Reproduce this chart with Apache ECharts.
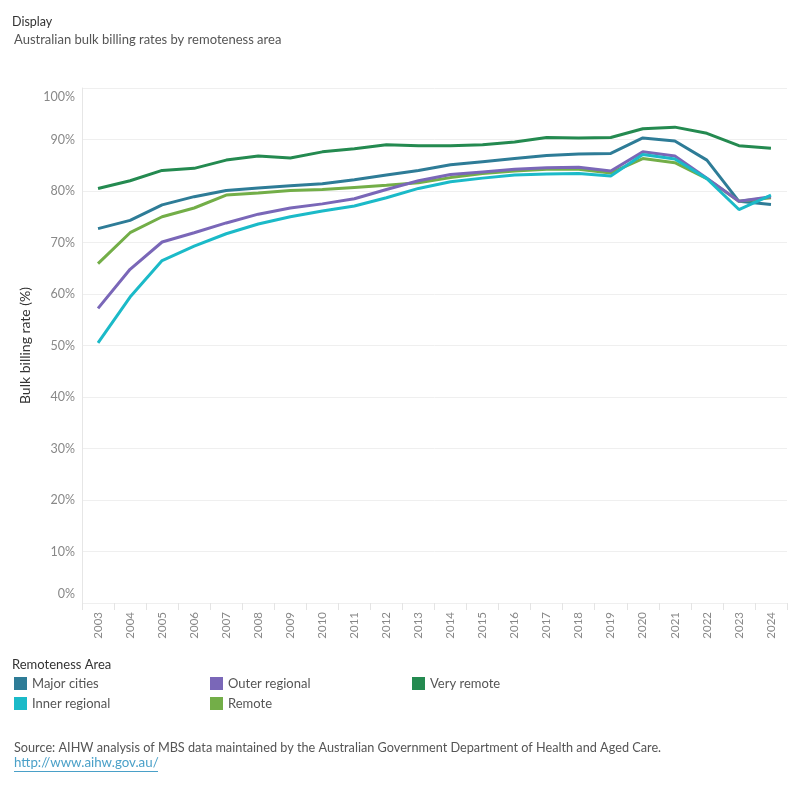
<!DOCTYPE html>
<html>
<head>
<meta charset="utf-8">
<script src="https://cdn.jsdelivr.net/npm/echarts@6/dist/echarts.min.js"></script>
<style>
  html, body { margin: 0; padding: 0; background: #fff; }
  #chart { width: 800px; height: 800px; }
</style>
</head>
<body>
<div id="chart"></div>
<script>
// years on the x axis
const years = ['2003', '2004', '2005', '2006', '2007', '2008', '2009', '2010', '2011', '2012', '2013',
  '2014', '2015', '2016', '2017', '2018', '2019', '2020', '2021', '2022', '2023', '2024'];

// bulk billing rate (%)
const majorCities = [72.7, 74.3, 77.3, 78.9, 80.1, 80.6, 81.0, 81.4, 82.2, 83.1, 84.0,
  85.1, 85.7, 86.3, 86.9, 87.2, 87.3, 90.3, 89.7, 86.0, 78.0, 77.4];
const innerRegional = [50.5, 59.4, 66.5, 69.3, 71.7, 73.6, 75.0, 76.1, 77.1, 78.7, 80.5,
  81.8, 82.5, 83.1, 83.3, 83.4, 82.9, 87.1, 86.2, 82.4, 76.4, 79.2];
const outerRegional = [57.2, 64.8, 70.1, 71.9, 73.8, 75.5, 76.7, 77.5, 78.5, 80.3, 82.0,
  83.2, 83.7, 84.2, 84.5, 84.6, 83.9, 87.6, 86.8, 82.5, 78.0, 78.9];
const remote = [65.9, 71.9, 75.0, 76.7, 79.2, 79.6, 80.1, 80.3, 80.7, 81.1, 81.6,
  82.6, 83.4, 83.9, 84.2, 84.2, 83.5, 86.3, 85.5, 82.4, 78.0, 78.7];
const veryRemote = [80.5, 82.0, 84.0, 84.4, 86.0, 86.8, 86.4, 87.6, 88.2, 89.0, 88.8,
  88.8, 89.0, 89.5, 90.4, 90.3, 90.4, 92.1, 92.4, 91.2, 88.8, 88.3];

const colors = {
  'Major cities': '#2e7c97',
  'Inner regional': '#1bbac8',
  'Outer regional': '#7a67b8',
  'Remote': '#73ae48',
  'Very remote': '#248a50',
};

const FONT = 'Lato';
const LABEL_GRAY = '#888';

const chart = echarts.init(document.getElementById('chart'), null, { renderer: 'canvas' });

function line(name, data) {
  return {
    name,
    type: 'line',
    data,
    symbol: 'none',
    lineStyle: { width: 3, color: colors[name] },
    itemStyle: { color: colors[name] },
  };
}

function legendCol(left, names) {
  return {
    orient: 'vertical',
    left,
    top: 677,
    padding: 0,
    data: names,
    icon: 'rect',
    itemWidth: 13,
    itemHeight: 13,
    itemGap: 7,
    textStyle: { color: '#555', fontSize: 13, fontFamily: FONT },
    selectedMode: false,
  };
}

function textTitle(text, left, top, size, color) {
  return {
    text,
    left,
    top,
    padding: 0,
    textStyle: { fontSize: size, fontWeight: 'normal', color, fontFamily: FONT },
  };
}

// tableau nudges the end labels inward so they stay in the plot
function yLabel(v) {
  if (v === 100) return '{t|100%}';
  if (v === 0) return '{b|0%}';
  return v + '%';
}
const edgeLabel = { color: LABEL_GRAY, fontSize: 12.5, fontFamily: FONT };

chart.setOption({
  animation: false,
  textStyle: { fontFamily: FONT },
  title: [
    textTitle('Display', 12, 15, 12.5, '#333'),
    textTitle('Australian bulk billing rates by remoteness area', 14, 33, 13, '#555'),
    textTitle('Remoteness Area', 12, 658, 13, '#333'),
    textTitle('Source: AIHW analysis of MBS data maintained by the Australian Government Department of Health and Aged Care.', 14, 741, 12.7, '#555'),
    textTitle('http://www.aihw.gov.au/', 14, 756, 13.3, '#4aa0c8'),
  ],
  // underline for the link
  graphic: [
    {
      type: 'line',
      shape: { x1: 14, y1: 771.5, x2: 158, y2: 771.5 },
      style: { stroke: '#4aa0c8', lineWidth: 1 },
    },
  ],
  legend: [
    legendCol(14, ['Major cities', 'Inner regional']),
    legendCol(210, ['Outer regional', 'Remote']),
    legendCol(412, ['Very remote']),
  ],
  grid: { left: 82, right: 13, top: 88, bottom: 197, containLabel: false },
  xAxis: {
    type: 'category',
    data: years,
    boundaryGap: true,
    axisLine: { show: false },
    axisTick: { show: true, length: 7, lineStyle: { color: '#e4e4e4' } },
    axisLabel: { rotate: 90, color: LABEL_GRAY, fontSize: 11.5, margin: 9, fontFamily: FONT },
  },
  yAxis: {
    type: 'value',
    min: 0,
    max: 100,
    interval: 10,
    name: 'Bulk billing rate (%)',
    nameLocation: 'middle',
    nameGap: 42,
    nameRotate: 90,
    nameTextStyle: { color: '#333', fontSize: 14, fontFamily: FONT },
    axisLine: { show: true, lineStyle: { color: '#e6e6e6' } },
    axisTick: { show: false },
    axisLabel: {
      color: LABEL_GRAY,
      fontSize: 12.5,
      margin: 7,
      fontFamily: FONT,
      formatter: yLabel,
      rich: {
        t: { ...edgeLabel, padding: [18, 0, 0, 0] },
        b: { ...edgeLabel, padding: [0, 0, 18, 0] },
      },
    },
    splitLine: { lineStyle: { color: '#efefef', width: 1 } },
  },
  series: [
    line('Major cities', majorCities),
    line('Very remote', veryRemote),
    line('Remote', remote),
    line('Outer regional', outerRegional),
    line('Inner regional', innerRegional),
  ],
});
</script>
</body>
</html>
